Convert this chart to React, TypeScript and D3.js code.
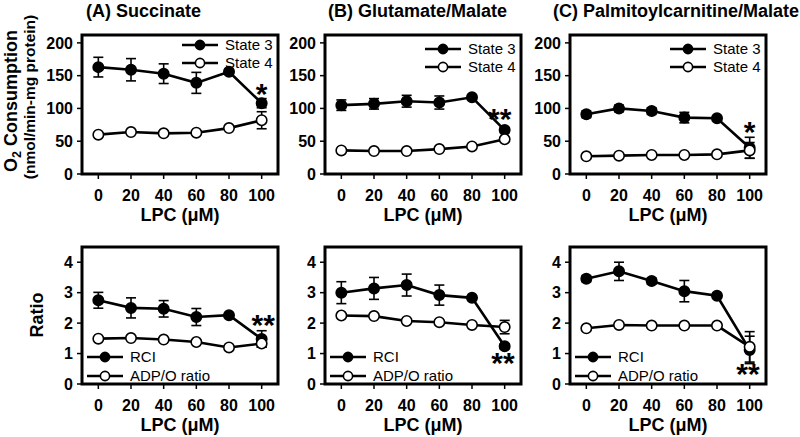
import React from "react";
import * as d3 from "d3";

const lpc = [0, 20, 40, 60, 80, 100];
const xTicks = [0, 20, 40, 60, 80, 100];
const topTicks = [0, 50, 100, 150, 200];
const botTicks = [0, 1, 2, 3, 4];

const titles = ["(A) Succinate", "(B) Glutamate/Malate", "(C) Palmitoylcarnitine/Malate"];
const topLegend = ["State 3", "State 4"];
const botLegend = ["RCI", "ADP/O ratio"];

// Top row: O2 consumption
const succState3 = [163, 159, 153, 139, 156, 108];
const succState3Err = [15, 17, 15, 16, 4, 7];
const succState4 = [60, 64, 62, 63, 70, 82];
const succState4Err = [3, 3, 3, 3, 3, 13];
const gmState3 = [105, 107, 111, 109, 117, 67];
const gmState3Err = [8, 8, 9, 10, 3, 4];
const gmState4 = [36, 35, 35, 38, 42, 53];
const gmState4Err = [2, 2, 2, 2, 2, 3];
const pcState3 = [91, 100, 96, 86, 85, 40];
const pcState3Err = [5, 5, 5, 8, 3, 16];
const pcState4 = [27, 28, 29, 29, 30, 36];
const pcState4Err = [2, 2, 2, 2, 2, 12];

// Bottom row: ratios
const succRCI = [2.75, 2.5, 2.47, 2.2, 2.26, 1.48];
const succRCIErr = [0.26, 0.33, 0.27, 0.28, 0.06, 0.27];
const succADPO = [1.49, 1.51, 1.46, 1.38, 1.2, 1.33];
const succADPOErr = [0.05, 0.05, 0.05, 0.05, 0.05, 0.12];
const gmRCI = [3.0, 3.14, 3.25, 2.92, 2.83, 1.24];
const gmRCIErr = [0.36, 0.36, 0.36, 0.33, 0.05, 0.08];
const gmADPO = [2.25, 2.23, 2.07, 2.03, 1.94, 1.87];
const gmADPOErr = [0.05, 0.05, 0.05, 0.05, 0.05, 0.22];
const pcRCI = [3.46, 3.7, 3.38, 3.05, 2.9, 1.12];
const pcRCIErr = [0.1, 0.3, 0.1, 0.35, 0.08, 0.45];
const pcADPO = [1.83, 1.94, 1.92, 1.92, 1.92, 1.22];
const pcADPOErr = [0.04, 0.04, 0.04, 0.04, 0.04, 0.5];

// significance marks: [x, y(center), text]
const topStars: [number, number, string][] = [
  [100, 126, "*"],
  [97, 87, "**"],
  [100, 68, "*"],
];
const botStars: [number, number, string][] = [
  [101, 2.0, "**"],
  [99, 0.77, "**"],
  [99, 0.4, "**"],
];

const FONT = '"Liberation Sans", Arial, Helvetica, sans-serif';

type Series = { v: number[]; e: number[]; filled: boolean };

function Panel(props: {
  left: number;
  width: number;
  top: number;
  bottom: number;
  yMax: number;
  yTicks: number[];
  series: Series[];
  legend: string[];
  legendTopRight: boolean;
  legendDy: number;
  star: [number, number, string];
}) {
  const { left, width, top, bottom, yMax, yTicks, series, legend, legendTopRight, legendDy, star } = props;
  const x = d3.scaleLinear().domain([-10, 110]).range([left, left + width]);
  const y = d3.scaleLinear().domain([0, yMax]).range([bottom, top]);
  const line = d3
    .line<number>()
    .x((_, i) => x(lpc[i]))
    .y((d) => y(d));
  const right = left + width;
  const starFs = 30;
  return (
    <g>
      {series.map((s, si) => (
        <path key={"l" + si} d={line(s.v) || ""} fill="none" stroke="#000" strokeWidth={2.6} />
      ))}
      {series.map((s, si) =>
        s.v.map((v, i) => {
          const cx = x(lpc[i]);
          const y1 = y(v + s.e[i]);
          const y2 = y(v - s.e[i]);
          return (
            <g key={"e" + si + "-" + i} stroke="#000" strokeWidth={1.6}>
              <line x1={cx} x2={cx} y1={y1} y2={y2} />
              <line x1={cx - 5} x2={cx + 5} y1={y1} y2={y1} />
              <line x1={cx - 5} x2={cx + 5} y1={y2} y2={y2} />
            </g>
          );
        })
      )}
      {series.map((s, si) =>
        s.v.map((v, i) => (
          <circle
            key={"m" + si + "-" + i}
            cx={x(lpc[i])}
            cy={y(v)}
            r={5.2}
            fill={s.filled ? "#000" : "#fff"}
            stroke="#000"
            strokeWidth={1.6}
          />
        ))
      )}
      <rect x={left} y={top} width={width} height={bottom - top} fill="none" stroke="#000" strokeWidth={3} />
      {yTicks.map((t) => (
        <g key={"yt" + t}>
          <line x1={left - 5} x2={left} y1={y(t)} y2={y(t)} stroke="#000" strokeWidth={1.5} />
          <text
            x={left - 9}
            y={y(t)}
            dy="0.36em"
            textAnchor="end"
            fontFamily={FONT}
            fontWeight="bold"
            fontSize={16}
          >
            {t}
          </text>
        </g>
      ))}
      {xTicks.map((t) => (
        <g key={"xt" + t}>
          <line x1={x(t)} x2={x(t)} y1={bottom} y2={bottom + 5} stroke="#000" strokeWidth={1.5} />
          <text x={x(t)} y={bottom + 27} textAnchor="middle" fontFamily={FONT} fontWeight="bold" fontSize={16}>
            {t}
          </text>
        </g>
      ))}
      <text
        x={left + width / 2}
        y={bottom + 47}
        textAnchor="middle"
        fontFamily={FONT}
        fontWeight="bold"
        fontSize={18}
      >
        LPC (μM)
      </text>
      {legend.map((name, i) => {
        const ly = legendTopRight ? top + 14 + legendDy + i * 18 : bottom - 27 + i * 19;
        const lx0 = legendTopRight ? right - 96 : left + 5;
        const mx = legendTopRight ? right - 78 : left + 23;
        const tx = legendTopRight ? right - 53 : left + 48;
        return (
          <g key={"lg" + i}>
            <line x1={lx0} x2={lx0 + 36} y1={ly} y2={ly} stroke="#000" strokeWidth={2.6} />
            <circle cx={mx} cy={ly} r={4.6} fill={i === 0 ? "#000" : "#fff"} stroke="#000" strokeWidth={1.6} />
            <text x={tx} y={ly} dy="0.36em" fontFamily={FONT} fontSize={15}>
              {name}
            </text>
          </g>
        );
      })}
      <text
        x={x(star[0])}
        y={y(star[1]) + 0.41 * starFs}
        textAnchor="middle"
        fontFamily={FONT}
        fontWeight="bold"
        fontSize={starFs}
      >
        {star[2]}
      </text>
    </g>
  );
}

export default function App() {
  const lefts = [82, 325, 570];
  const width = 196;
  const titleX = [86, 328, 553];
  const topSeries: Series[][] = [
    [
      { v: succState3, e: succState3Err, filled: true },
      { v: succState4, e: succState4Err, filled: false },
    ],
    [
      { v: gmState3, e: gmState3Err, filled: true },
      { v: gmState4, e: gmState4Err, filled: false },
    ],
    [
      { v: pcState3, e: pcState3Err, filled: true },
      { v: pcState4, e: pcState4Err, filled: false },
    ],
  ];
  const botSeries: Series[][] = [
    [
      { v: succRCI, e: succRCIErr, filled: true },
      { v: succADPO, e: succADPOErr, filled: false },
    ],
    [
      { v: gmRCI, e: gmRCIErr, filled: true },
      { v: gmADPO, e: gmADPOErr, filled: false },
    ],
    [
      { v: pcRCI, e: pcRCIErr, filled: true },
      { v: pcADPO, e: pcADPOErr, filled: false },
    ],
  ];
  return (
    <svg
      width={800}
      height={437}
      viewBox="0 0 800 437"
      style={{ position: "absolute", left: 0, top: 0, background: "#fff" }}
    >
      <rect x={0} y={0} width={800} height={437} fill="#fff" />
      {titles.map((t, i) => (
        <text key={t} x={titleX[i]} y={17} fontFamily={FONT} fontWeight="bold" fontSize={18}>
          {t}
        </text>
      ))}
      <text
        transform="translate(16.5,101) rotate(-90)"
        textAnchor="middle"
        fontFamily={FONT}
        fontWeight="bold"
        fontSize={18}
      >
        O<tspan fontSize={12.5} dy={4}>2</tspan>
        <tspan dy={-4}> Consumption</tspan>
      </text>
      <text
        transform="translate(34.5,97) rotate(-90)"
        textAnchor="middle"
        fontFamily={FONT}
        fontWeight="bold"
        fontSize={15.5}
      >
        (nmol/min-mg protein)
      </text>
      <text
        transform="translate(43,315) rotate(-90)"
        textAnchor="middle"
        fontFamily={FONT}
        fontWeight="bold"
        fontSize={18}
      >
        Ratio
      </text>
      {lefts.map((l, i) => (
        <Panel
          key={"top" + i}
          left={l}
          width={width}
          top={35}
          bottom={174}
          yMax={212}
          yTicks={topTicks}
          series={topSeries[i]}
          legend={topLegend}
          legendTopRight={true}
          legendDy={i === 0 ? -4 : 0}
          star={topStars[i]}
        />
      ))}
      {lefts.map((l, i) => (
        <Panel
          key={"bot" + i}
          left={l}
          width={width}
          top={247}
          bottom={384}
          yMax={4.5}
          yTicks={botTicks}
          series={botSeries[i]}
          legend={botLegend}
          legendTopRight={false}
          legendDy={0}
          star={botStars[i]}
        />
      ))}
    </svg>
  );
}
